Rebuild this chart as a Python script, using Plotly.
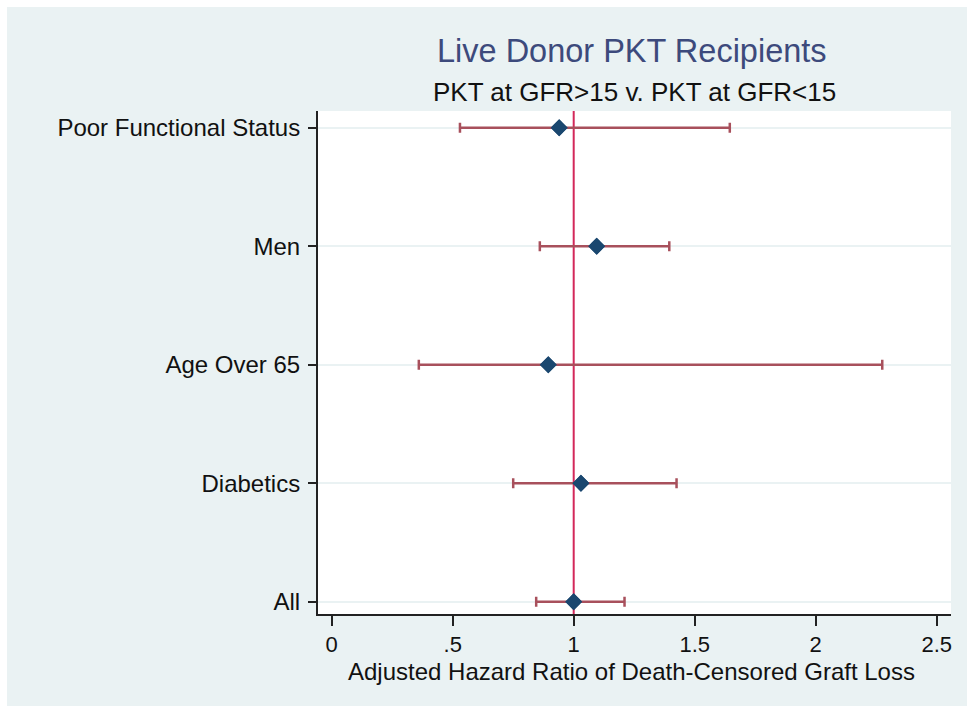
import plotly.graph_objects as go

# ---- data ----
categories = ["All", "Diabetics", "Age Over 65", "Men", "Poor Functional Status"]
hazard_ratio = [1.00, 1.03, 0.895, 1.095, 0.94]
ci_lower = [0.845, 0.75, 0.36, 0.86, 0.53]
ci_upper = [1.21, 1.425, 2.275, 1.395, 1.645]
x_tick_vals = [0, 0.5, 1, 1.5, 2, 2.5]
x_tick_text = ["0", ".5", "1", "1.5", "2", "2.5"]
ref_line = 1.0

title_text = "Live Donor PKT Recipients"
subtitle_text = "PKT at GFR>15 v. PKT at GFR<15"
x_title_text = "Adjusted Hazard Ratio of Death-Censored Graft Loss"

# ---- styling ----
W, H = 967, 706
L, R, T, B = 318, 951, 111, 614  # plot area, pixels
X0_PX = 331.7   # pixel of x = 0
PX_PER_UNIT = 242.0
BORDER = 7      # white page border at top / left
BG = "#EAF2F3"
FONT = "Liberation Sans, Arial, sans-serif"
CI_COLOR = "#A8505C"
PT_COLOR = "#1A476F"
REF_COLOR = "#D3285A"


def px_x(p):
    return (p - L) / (R - L)


def px_y(p):
    return (B - p) / (B - T)


err_plus = [u - h for u, h in zip(ci_upper, hazard_ratio)]
err_minus = [h - l for h, l in zip(hazard_ratio, ci_lower)]

fig = go.Figure()
fig.add_trace(go.Scatter(
    x=hazard_ratio, y=categories, mode="markers",
    marker=dict(symbol="diamond", size=13, color=PT_COLOR),
    error_x=dict(type="data", symmetric=False, array=err_plus, arrayminus=err_minus,
                 color=CI_COLOR, thickness=2.5, width=5),
    showlegend=False, hoverinfo="skip",
))

# vertical reference line at HR = 1
fig.add_shape(type="line", xref="x", yref="paper", x0=ref_line, x1=ref_line, y0=0, y1=1,
              line=dict(color=REF_COLOR, width=2), layer="below")

# white page border strips (top & left) around the tinted graph region
fig.add_shape(type="rect", xref="paper", yref="paper",
              x0=px_x(-5), x1=px_x(BORDER), y0=px_y(H + 5), y1=px_y(-5),
              fillcolor="white", line=dict(width=0), layer="below")
fig.add_shape(type="rect", xref="paper", yref="paper",
              x0=px_x(-5), x1=px_x(W + 5), y0=px_y(BORDER), y1=px_y(-5),
              fillcolor="white", line=dict(width=0), layer="below")

# markers drawn above error bars
fig.add_trace(go.Scatter(
    x=hazard_ratio, y=categories, mode="markers",
    marker=dict(symbol="diamond", size=13, color=PT_COLOR),
    showlegend=False, hoverinfo="skip",
))

fig.update_layout(
    width=W, height=H,
    margin=dict(l=L, r=W - R, t=T, b=H - B, pad=0),
    paper_bgcolor=BG, plot_bgcolor="white",
    font=dict(family=FONT, size=24, color="#111111"),
    xaxis=dict(
        range=[(L - X0_PX) / PX_PER_UNIT, (R - X0_PX) / PX_PER_UNIT],
        tickvals=x_tick_vals, ticktext=x_tick_text,
        ticks="outside", ticklen=10, tickwidth=2, tickcolor="#222222",
        showline=True, linecolor="#222222", linewidth=2,
        showgrid=False, zeroline=False,
        tickfont=dict(size=22, family=FONT, color="#111111"),
        ticklabelstandoff=0,
        fixedrange=True,
    ),
    yaxis=dict(
        type="category", categoryorder="array", categoryarray=categories,
        range=[-0.104, 4.141],
        ticks="outside", ticklen=8, tickwidth=2, tickcolor="#222222",
        showline=True, linecolor="#222222", linewidth=2,
        showgrid=True, gridcolor=BG, gridwidth=2,
        zeroline=False,
        tickfont=dict(size=24, family=FONT, color="#111111"),
        ticklabelstandoff=3,
        fixedrange=True,
    ),
    annotations=[
        dict(text=title_text, xref="paper", yref="paper", x=px_x(632), y=px_y(51),
             xanchor="center", yanchor="middle", showarrow=False,
             font=dict(size=32.5, family=FONT, color="#3D4A7C")),
        dict(text=subtitle_text, xref="paper", yref="paper", x=px_x(634), y=px_y(92),
             xanchor="center", yanchor="middle", showarrow=False,
             font=dict(size=26, family=FONT, color="#111111")),
        dict(text=x_title_text, xref="paper", yref="paper", x=px_x(631), y=px_y(671),
             xanchor="center", yanchor="middle", showarrow=False,
             font=dict(size=24, family=FONT, color="#111111")),
    ],
)

fig.write_html(
    "out.html",
    config={"displayModeBar": False, "staticPlot": True},
    post_script="document.body.style.margin='0';document.body.style.overflow='hidden';",
)
